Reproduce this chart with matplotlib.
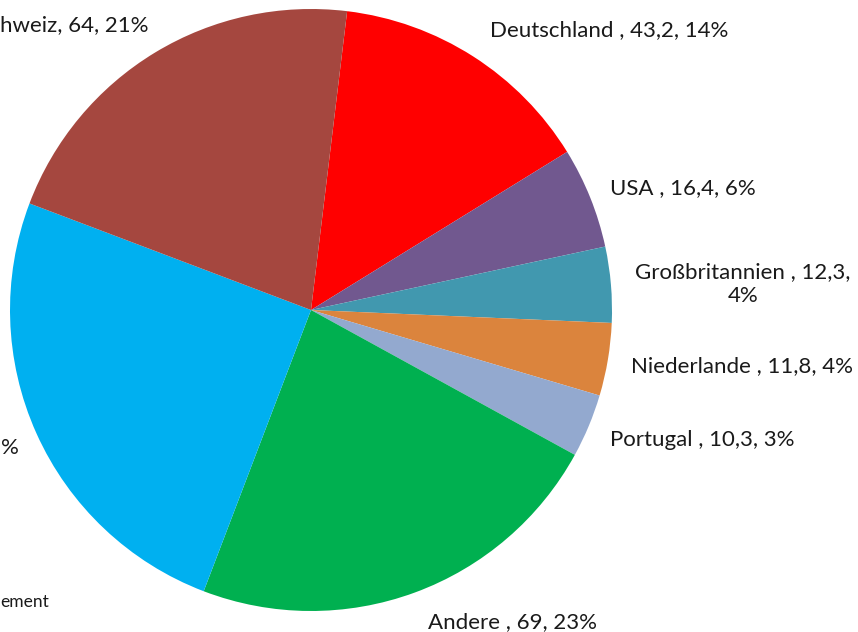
import matplotlib
matplotlib.use("Agg")
import matplotlib.pyplot as plt

# Data (clockwise order starting from Deutschland)
categories = ["Deutschland", "USA", "Großbritannien", "Niederlande", "Portugal",
              "Andere", "Frankreich", "Schweiz"]
values = [43.2, 16.4, 12.3, 11.8, 10.3, 69, 75.5, 64]
value_labels = ["43,2", "16,4", "12,3", "11,8", "10,3", "69", "75,5", "64"]
pct_labels = ["14%", "6%", "4%", "4%", "3%", "23%", "25%", "21%"]
colors = ["#FF0000", "#71588F", "#4198AF", "#DB843D", "#93A9CF",
          "#00B050", "#00B0F0", "#A5473F"]

W, H = 858, 632
fig = plt.figure(figsize=(W / 100, H / 100), dpi=100)
ax = fig.add_axes([0, 0, 1, 1])

cx, cy, r = 311, H - 310, 301
ax.pie(values, colors=colors, startangle=83.1, counterclock=False,
       center=(cx, cy), radius=r, wedgeprops=dict(linewidth=0))
ax.set_xlim(0, W)
ax.set_ylim(0, H)
ax.set_aspect("equal")
ax.axis("off")

font = dict(family="Lato", fontsize=16, color="#1a1a1a")

def lab(i):
    return f"{categories[i]} , {value_labels[i]}, {pct_labels[i]}"

# labels partly cut off by the left edge in the reference: only visible parts shown
ax.text(0.5, H - 25, f"hweiz, {value_labels[7]}, {pct_labels[7]}",
        ha="left", va="center", **font)
ax.text(1, H - 448, "%", ha="left", va="center", **font)
ax.text(0, H - 602, "ement", ha="left", va="center",
        family="Lato", fontsize=12.5, color="#1a1a1a")

ax.text(490, H - 30, lab(0), ha="left", va="center", **font)
ax.text(610, H - 188, lab(1), ha="left", va="center", **font)
ax.text(743, H - 284, f"{categories[2]} , {value_labels[2]},\n{pct_labels[2]}",
        ha="center", va="center", linespacing=1.25, **font)
ax.text(631, H - 366, lab(3), ha="left", va="center", **font)
ax.text(610, H - 440, lab(4), ha="left", va="center", **font)
ax.text(428, H - 622, lab(5), ha="left", va="center", **font)

fig.savefig("out.png", dpi=100)
